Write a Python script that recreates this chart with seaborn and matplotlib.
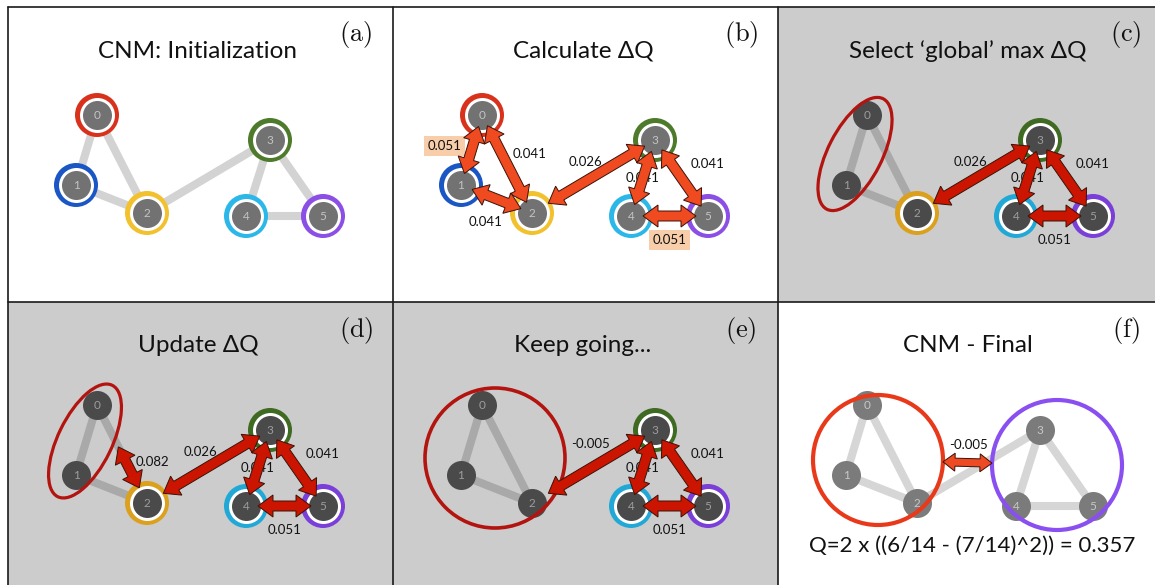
import numpy as np
import pandas as pd
import matplotlib
matplotlib.use("Agg")
import matplotlib.pyplot as plt
import seaborn as sns
from matplotlib.patches import Polygon, Ellipse, Circle
from matplotlib.lines import Line2D

sns.set_theme(style="white")
plt.rcParams["font.family"] = ["Lato", "DejaVu Sans"]
plt.rcParams["mathtext.fontset"] = "cm"

# ---------------- data ----------------
node_ids = [0, 1, 2, 3, 4, 5]
edge_pairs = [(0, 1), (0, 2), (1, 2), (2, 3), (3, 4), (3, 5), (4, 5)]

panel_titles = ["CNM: Initialization", "Calculate \u0394Q", "Select \u2018global\u2019 max \u0394Q",
                "Update \u0394Q", "Keep going...", "CNM - Final"]
panel_letters = ["a", "b", "c", "d", "e", "f"]

# delta-Q values shown on the arrows of each step
calc_pairs = [(0, 1), (0, 2), (1, 2), (2, 3), (3, 4), (3, 5), (4, 5)]
calc_dq = [0.051, 0.041, 0.041, 0.026, 0.041, 0.041, 0.051]
select_pairs = [(2, 3), (3, 4), (3, 5), (4, 5)]
select_dq = [0.026, 0.041, 0.041, 0.051]
update_pairs = [(2, 0), (2, 3), (3, 4), (3, 5), (4, 5)]
update_dq = [0.082, 0.026, 0.041, 0.041, 0.051]
keep_pairs = [(2, 3), (3, 4), (3, 5), (4, 5)]
keep_dq = [-0.005, 0.041, 0.041, 0.051]
final_dq = -0.005
final_q_text = "Q=2 x ((6/14 - (7/14)^2)) = 0.357"

# ---------------- layout (pixels) ----------------
W, H = 1155, 585
panel_rects = [(8, 7, 393, 302), (393, 7, 778, 302), (778, 7, 1155, 302),
               (8, 302, 393, 585), (393, 302, 778, 585), (778, 302, 1155, 585)]
node_xy = np.array([[89, 108], [68, 178], [139, 206], [262, 133], [238, 209], [315, 209]], float)
row_shift = [0, 0, 0, -5, -5, -5]

ring_colors_light = ["#d9321c", "#1a56c4", "#f2c12e", "#4e7b2b", "#2bb8e8", "#8b4fe6"]
ring_colors_dark = ["#c0281a", "#1a56c4", "#dba11e", "#3f6a22", "#21a8d6", "#7a3fd8"]

label_offsets = {(0, 1): (-27, -4), (0, 2): (23, -10), (1, 2): (-11, 23), (2, 3): (-8, -15),
                 (3, 4): (0, 0), (3, 5): (26, -14), (4, 5): (0, 24)}


def px_s(r):
    """marker area (pt^2) for a disc of radius r pixels at 100 dpi"""
    return (2 * r * 0.72) ** 2


def double_arrow(ax, p0, p1, shrinkA, shrinkB, fc, shaft=10, head_w=22, head_l=15, z=5):
    p0 = np.asarray(p0, float)
    p1 = np.asarray(p1, float)
    d = p1 - p0
    u = d / np.hypot(*d)
    n = np.array([-u[1], u[0]])
    a = p0 + u * shrinkA
    b = p1 - u * shrinkB
    pts = [a,
           a + u * head_l + n * head_w / 2, a + u * head_l + n * shaft / 2,
           b - u * head_l + n * shaft / 2, b - u * head_l + n * head_w / 2,
           b,
           b - u * head_l - n * head_w / 2, b - u * head_l - n * shaft / 2,
           a + u * head_l - n * shaft / 2, a + u * head_l - n * head_w / 2]
    ax.add_patch(Polygon(pts, closed=True, fc=fc, ec="#3a1208", lw=0.7,
                         joinstyle="miter", zorder=z))


def draw_nodes(ax, pos, fill, num_color, rings, ring_palette):
    df = pd.DataFrame({"x": pos[:, 0], "y": pos[:, 1], "node": [str(i) for i in node_ids]})
    ringed = df[df["node"].astype(int).isin(rings)]
    if len(ringed):
        pal = {str(i): ring_palette[i] for i in rings}
        sns.scatterplot(data=ringed, x="x", y="y", hue="node", palette=pal, s=px_s(22),
                        linewidth=0, legend=False, ax=ax, zorder=3)
        sns.scatterplot(data=ringed, x="x", y="y", color="white", s=px_s(17.5),
                        linewidth=0, legend=False, ax=ax, zorder=3.1)
    sns.scatterplot(data=df, x="x", y="y", color=fill, s=px_s(14.5),
                    linewidth=0, legend=False, ax=ax, zorder=3.2)
    for i in node_ids:
        ax.text(pos[i, 0], pos[i, 1] + 0.5, str(i), color=num_color, fontsize=8.5,
                ha="center", va="center", zorder=3.3)


def draw_edges(ax, pos, pairs, color):
    for i, j in pairs:
        ax.plot([pos[i, 0], pos[j, 0]], [pos[i, 1], pos[j, 1]], color=color, lw=5.8,
                solid_capstyle="butt", zorder=1)


def shrink_for(i, j):
    sa = 19 if i == 2 and j == 3 else 12
    return sa, 12


def draw_dq_arrows(ax, pos, pairs, values, fc, highlight=False, overrides=None):
    vmax = max(values)
    for (i, j), v in zip(pairs, values):
        sa, sb = shrink_for(i, j)
        double_arrow(ax, pos[i], pos[j], sa, sb, fc)
        key = tuple(sorted((i, j)))
        off = label_offsets[key]
        if overrides and key in overrides:
            off = overrides[key]
        mid = (pos[i] + pos[j]) / 2
        box = None
        if highlight and v == vmax:
            box = dict(boxstyle="square,pad=0.3", fc="#f8cdaa", ec="none")
        ax.text(mid[0] + off[0], mid[1] + off[1], f"{v:.3f}", fontsize=9.5, color="#111111",
                ha="center", va="center", bbox=box, zorder=4)


fig = plt.figure(figsize=(W / 100, H / 100), dpi=100)
axes = []
for k, (x0, y0, x1, y1) in enumerate(panel_rects):
    ax = fig.add_axes([x0 / W, 1 - y1 / H, (x1 - x0) / W, (y1 - y0) / H])
    ax.set_facecolor("#cccccc" if k in (2, 3, 4) else "white")
    for s in ax.spines.values():
        s.set_visible(False)
    axes.append(ax)

for k, ax in enumerate(axes):
    x0, y0, x1, y1 = panel_rects[k]
    w, h = x1 - x0, y1 - y0
    pos = node_xy + np.array([0, row_shift[k]])
    gray_panel = k in (2, 3, 4)
    edge_col = "#a9a9a9" if gray_panel else "#d3d3d3"

    if k == 0:
        draw_edges(ax, pos, edge_pairs, edge_col)
        draw_nodes(ax, pos, "#727272", "#c4c4c4", node_ids, ring_colors_light)
    elif k == 1:
        draw_nodes(ax, pos, "#727272", "#c4c4c4", node_ids, ring_colors_light)
        draw_dq_arrows(ax, pos, calc_pairs, calc_dq, "#f04a20", highlight=True)
    elif k == 2:
        draw_edges(ax, pos, [(0, 1), (0, 2), (1, 2)], edge_col)
        draw_nodes(ax, pos, "#4a4a4a", "#9d9d9d", [2, 3, 4, 5], ring_colors_dark)
        ax.add_patch(Ellipse((77, 147), 124, 54, angle=-63, fill=False, ec="#b3140f",
                             lw=2.3, zorder=4))
        draw_dq_arrows(ax, pos, select_pairs, select_dq, "#cc1500")
    elif k == 3:
        draw_edges(ax, pos, [(0, 1), (0, 2), (1, 2)], edge_col)
        draw_nodes(ax, pos, "#4a4a4a", "#9d9d9d", [2, 3, 4, 5], ring_colors_dark)
        ax.add_patch(Ellipse((77, 139), 124, 54, angle=-64, fill=False, ec="#b3140f",
                             lw=2.3, zorder=4))
        # merged community {0,1} -> node 2
        double_arrow(ax, pos[2], pos[0], 17, 47, "#cc1500")
        ax.text(144, 160, f"{update_dq[0]:.3f}", fontsize=9.5, color="#111111",
                ha="center", va="center", zorder=4)
        draw_dq_arrows(ax, pos, update_pairs[1:], update_dq[1:], "#cc1500")
    elif k == 4:
        draw_edges(ax, pos, [(0, 1), (0, 2), (1, 2)], edge_col)
        draw_nodes(ax, pos, "#4a4a4a", "#9d9d9d", [3, 4, 5], ring_colors_dark)
        ax.add_patch(Circle((102, 156), 70, fill=False, ec="#b3140f", lw=2.6, zorder=4))
        draw_dq_arrows(ax, pos, keep_pairs, keep_dq, "#cc1500",
                       overrides={(2, 3): (-3, -22)})
    else:
        draw_edges(ax, pos, edge_pairs, "#d6d6d6")
        draw_nodes(ax, pos, "#7b7b7b", "#c8c8c8", [], ring_colors_light)
        red_c, purple_c = np.array([100, 158]), np.array([279, 163])
        ax.add_patch(Circle(red_c, 65, fill=False, ec="#e8391a", lw=3.0, zorder=4))
        ax.add_patch(Circle(purple_c, 65, fill=False, ec="#8a4ff0", lw=3.0, zorder=4))
        double_arrow(ax, red_c, purple_c, 65, 65, "#ee4a24", shaft=8, head_w=18, head_l=12)
        ax.text(190, 143, f"{final_dq:.3f}", fontsize=9.5, color="#111111",
                ha="center", va="center", zorder=4)
        ax.text(194, 244, final_q_text, fontsize=16, color="#111111",
                ha="center", va="center", zorder=4)

    ax.text(190, 44, panel_titles[k], fontsize=17.5, color="#111111", ha="center", va="center")
    ax.text(348, 28, r"$\mathrm{(" + panel_letters[k] + r")}$", fontsize=19,
            color="#111111", ha="center", va="center")

    ax.set_xlim(0, w)
    ax.set_ylim(h, 0)
    ax.set_xticks([])
    ax.set_yticks([])
    ax.set_xlabel("")
    ax.set_ylabel("")

# panel frame lines
def fig_line(x0, y0, x1, y1):
    fig.add_artist(Line2D([x0 / W, x1 / W], [1 - y0 / H, 1 - y1 / H], color="#1a1a1a",
                          lw=1.2, zorder=10))

fig_line(8, 7, 1155, 7)
fig_line(8, 7, 8, 585)
fig_line(393, 7, 393, 585)
fig_line(778, 7, 778, 585)
fig_line(8, 302, 1155, 302)

fig.savefig("out.png", dpi=100, facecolor="white")
